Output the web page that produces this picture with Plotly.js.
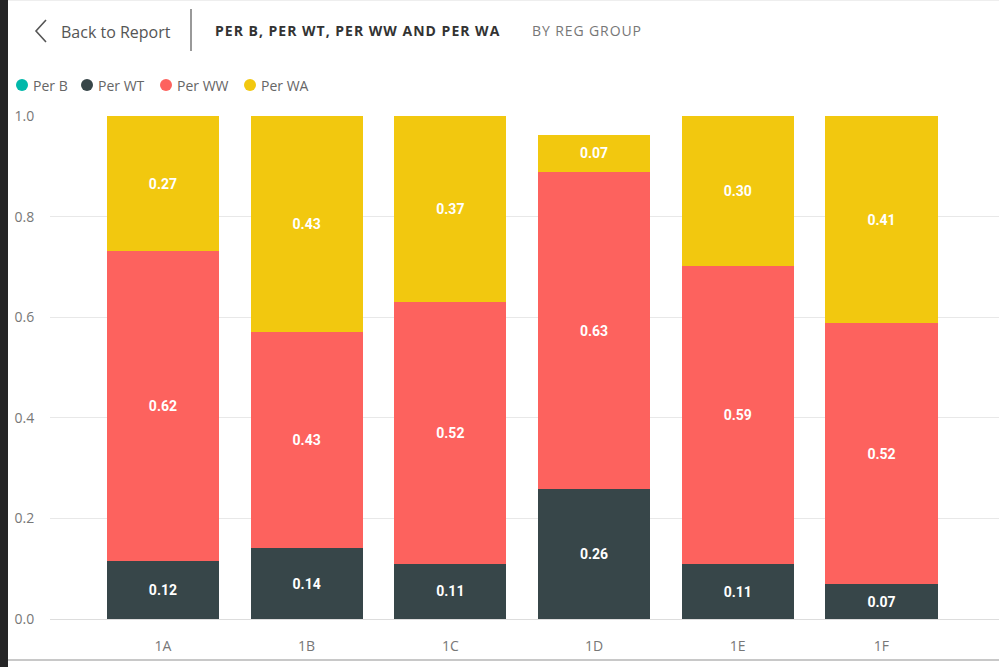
<!DOCTYPE html>
<html>
<head>
<meta charset="utf-8">
<script src="https://cdn.plot.ly/plotly-3.0.1.min.js"></script>
<style>html,body{margin:0;padding:0;background:#fff;}#chart{width:999px;height:667px;}</style>
</head>
<body>
<div id="chart"></div>
<script>
const categories = ['1A', '1B', '1C', '1D', '1E', '1F'];
const perB  = [0, 0, 0, 0, 0, 0];
const perWT = [0.115, 0.141, 0.110, 0.258, 0.109, 0.069];
const perWW = [0.616, 0.430, 0.520, 0.631, 0.592, 0.519];
const perWA = [0.269, 0.429, 0.370, 0.073, 0.299, 0.412];
const seriesNames = ['Per B', 'Per WT', 'Per WW', 'Per WA'];
const seriesColors = ['#01B8AA', '#374649', '#FD625E', '#F2C80F'];
const yTicks = [0, 0.2, 0.4, 0.6, 0.8, 1.0];

const W = 999, H = 667, ML = 50, MR = 0, MT = 116, MB = 48;
const PW = W - ML - MR, PH = H - MT - MB;
const px = x => (x - ML) / PW;
const py = y => (H - MB - y) / PH;

const seriesData = [perB, perWT, perWW, perWA];
const traces = seriesData.map((vals, i) => ({
  type: 'bar',
  name: seriesNames[i],
  x: categories,
  y: vals,
  marker: {color: seriesColors[i], line: {width: 0}},
  texttemplate: i === 0 ? '' : '%{y:.2f}',
  textposition: 'inside',
  insidetextanchor: 'middle',
  textangle: 0,
  textfont: {family: 'Roboto', size: 14, color: '#ffffff', weight: 'bold'},
  showlegend: false,
  hoverinfo: 'x+y+name'
}));

const shapes = [
  {type: 'rect', xref: 'paper', yref: 'paper', x0: px(0), x1: px(8), y0: py(H), y1: py(0), fillcolor: '#252526', line: {width: 0}},
  {type: 'line', xref: 'paper', yref: 'paper', x0: px(8), x1: px(W), y0: py(660), y1: py(660), line: {color: '#c8c8c8', width: 2}},
  {type: 'line', xref: 'paper', yref: 'paper', x0: px(8), x1: px(W), y0: py(0.5), y1: py(0.5), line: {color: '#eeeeee', width: 1}},
  {type: 'path', xref: 'paper', yref: 'paper',
   path: `M ${px(46)} ${py(20)} L ${px(36)} ${py(31)} L ${px(46)} ${py(42)}`, line: {color: '#555555', width: 1.6}},
  {type: 'line', xref: 'paper', yref: 'paper', x0: px(191), x1: px(191), y0: py(9), y1: py(51), line: {color: '#555555', width: 1.2}}
];

const legendCircleX = [22, 87, 166, 250];
const legendTextX = [31, 96, 175, 259];
seriesNames.forEach((n, i) => {
  shapes.push({type: 'circle', xref: 'paper', yref: 'paper',
    x0: px(legendCircleX[i] - 6), x1: px(legendCircleX[i] + 6),
    y0: py(85 + 6), y1: py(85 - 6), fillcolor: seriesColors[i], line: {width: 0}});
});

const annotations = [
  {text: 'Back to Report', xref: 'paper', yref: 'paper', x: px(59), y: py(32), xanchor: 'left', yanchor: 'middle', showarrow: false,
   font: {family: 'Open Sans', size: 16, color: '#555555'}},
  {text: '<span style="letter-spacing:1px">PER B, PER WT, PER WW AND PER WA</span>', xref: 'paper', yref: 'paper', x: px(213), y: py(30), xanchor: 'left', yanchor: 'middle', showarrow: false,
   font: {family: 'Open Sans', size: 14, color: '#333333', weight: 'bold'}},
  {text: '<span style="letter-spacing:0.9px">BY REG GROUP</span>', xref: 'paper', yref: 'paper', x: px(530), y: py(30), xanchor: 'left', yanchor: 'middle', showarrow: false,
   font: {family: 'Open Sans', size: 14, color: '#777777'}}
];
seriesNames.forEach((n, i) => {
  annotations.push({text: n, xref: 'paper', yref: 'paper', x: px(legendTextX[i]), y: py(85), xanchor: 'left', yanchor: 'middle', showarrow: false,
    font: {family: 'Open Sans', size: 14, color: '#666666'}});
});

const layout = {
  width: W, height: H,
  margin: {l: ML, r: MR, t: MT, b: MB, pad: 0},
  paper_bgcolor: '#ffffff', plot_bgcolor: '#ffffff',
  barmode: 'stack',
  bargap: 0.22,
  showlegend: false,
  xaxis: {
    type: 'category',
    range: [-0.786, 5.818],
    showgrid: false, zeroline: false, showline: false,
    ticks: 'outside', ticklen: 14, tickcolor: 'rgba(0,0,0,0)',
    tickfont: {family: 'Open Sans', size: 14, color: '#777777'}
  },
  yaxis: {
    range: [0, 1.0],
    tickvals: yTicks,
    tickformat: '.1f',
    showgrid: true, gridcolor: '#e8e8e8', gridwidth: 1,
    zeroline: true, zerolinecolor: '#dddddd', zerolinewidth: 1,
    showline: false,
    ticks: 'outside', ticklen: 12, tickcolor: 'rgba(0,0,0,0)',
    tickfont: {family: 'Open Sans', size: 14, color: '#777777'}
  },
  shapes: shapes,
  annotations: annotations
};

Plotly.newPlot('chart', traces, layout, {displayModeBar: false, staticPlot: true});
</script>
</body>
</html>
